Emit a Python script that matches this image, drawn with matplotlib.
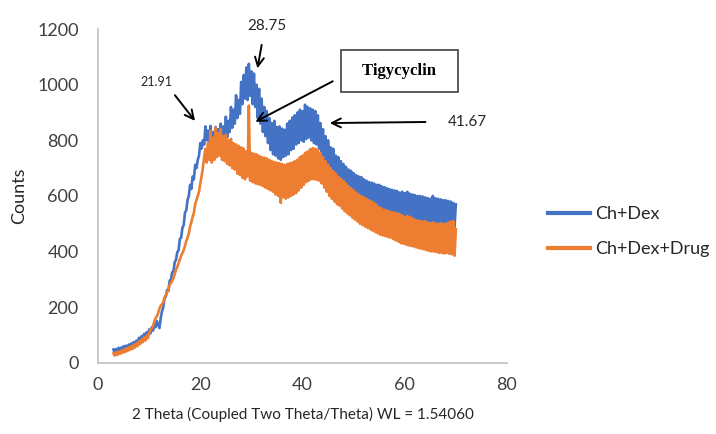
import numpy as np
import matplotlib.pyplot as plt

# 2 theta grid, 3 to 70 in steps of 0.25
two_theta = np.arange(3.0, 70.1, 0.25)

# Ch+Dex counts (noisy band)
ch_dex = [
    48, 36, 50, 40, 54, 42, 55, 46, 60, 48, 62, 52, 66, 55, 70, 58, 75, 62, 80, 68,
    90, 78, 96, 84, 104, 90, 110, 98, 120, 106, 128, 116, 140, 128, 150, 138, 125, 160, 185, 200,
    232, 238, 262, 258, 295, 300, 325, 330, 362, 370, 398, 405, 445, 450, 485, 495, 540, 548, 585, 600,
    640, 625, 670, 660, 712, 700, 730, 745, 790, 770, 800, 785, 850, 800, 835, 790, 852, 775, 830, 770,
    848, 775, 840, 790, 860, 780, 850, 800, 885, 810, 870, 830, 920, 845, 910, 860, 962, 880, 945, 895,
    1010, 930, 1035, 950, 1062, 945, 1075, 960, 1048, 930, 1040, 920, 1000, 880, 985, 860, 950, 830, 920, 815,
    905, 790, 880, 765, 862, 750, 870, 745, 848, 735, 850, 730, 842, 740, 838, 745, 860, 750, 870, 765,
    882, 770, 890, 785, 900, 790, 910, 800, 905, 795, 928, 805, 920, 810, 915, 800, 910, 790, 905, 785,
    890, 770, 862, 745, 840, 720, 815, 700, 800, 690, 775, 670, 770, 660, 745, 650, 740, 640, 725, 630,
    715, 620, 705, 610, 695, 600, 690, 598, 682, 590, 675, 590, 670, 585, 668, 580, 660, 578, 655, 575,
    650, 568, 648, 565, 645, 560, 640, 558, 640, 555, 635, 552, 632, 550, 628, 548, 625, 545, 622, 540,
    620, 540, 618, 536, 612, 534, 615, 530, 610, 528, 615, 525, 608, 522, 605, 520, 603, 518, 600, 515,
    600, 515, 598, 512, 595, 510, 592, 508, 590, 506, 600, 505, 592, 503, 590, 500, 588, 500, 585, 498,
    585, 495, 582, 493, 580, 490, 575, 488, 570,
]

# Ch+Dex+Drug counts (spike at 29.5 = tigecycline)
ch_dex_drug = [
    34, 26, 38, 28, 40, 32, 44, 35, 48, 38, 52, 42, 56, 46, 60, 50, 66, 55, 70, 60,
    78, 68, 84, 74, 92, 80, 98, 88, 108, 118, 125, 132, 150, 160, 168, 178, 195, 205, 210, 218,
    235, 242, 255, 262, 280, 288, 295, 305, 320, 335, 345, 358, 372, 385, 395, 405, 420, 438, 450, 465,
    490, 505, 525, 540, 570, 585, 600, 615, 645, 670, 700, 740, 770, 720, 790, 730, 835, 720, 810, 730,
    845, 740, 825, 745, 840, 730, 815, 725, 820, 715, 800, 710, 805, 700, 790, 695, 785, 680, 780, 675,
    775, 665, 770, 660, 760, 670, 925, 655, 755, 650, 752, 645, 750, 642, 745, 640, 740, 635, 738, 630,
    735, 625, 730, 620, 725, 615, 722, 605, 720, 600, 718, 575, 715, 595, 712, 590, 715, 595, 718, 600,
    720, 605, 725, 610, 730, 620, 740, 630, 745, 640, 755, 650, 760, 655, 768, 660, 772, 660, 770, 658,
    765, 655, 755, 645, 740, 630, 725, 615, 712, 600, 700, 590, 690, 580, 680, 570, 670, 565, 662, 555,
    655, 545, 645, 538, 635, 530, 628, 522, 620, 515, 612, 508, 605, 500, 600, 495, 595, 490, 590, 485,
    585, 480, 580, 475, 575, 470, 568, 465, 560, 460, 555, 458, 550, 455, 548, 452, 545, 450, 542, 445,
    540, 440, 538, 436, 535, 430, 530, 428, 525, 425, 528, 422, 525, 420, 520, 418, 515, 415, 512, 412,
    510, 410, 508, 408, 510, 405, 505, 402, 500, 400, 505, 400, 502, 398, 500, 395, 502, 395, 500, 393,
    500, 395, 505, 392, 508, 390, 510, 385, 480,
]

labels = ["Ch+Dex", "Ch+Dex+Drug"]
colors = ["#4472C4", "#ED7D31"]

plt.rcParams['font.family'] = ['Lato', 'DejaVu Sans']

fig = plt.figure(figsize=(7.16, 4.34), dpi=100)
ax = fig.add_axes([0.137, 0.164, 0.571, 0.769])

ax.plot(two_theta, ch_dex, color=colors[0], lw=1.9, label=labels[0])
ax.plot(two_theta, ch_dex_drug, color=colors[1], lw=1.9, label=labels[1])

ax.set_xlim(0, 80)
ax.set_ylim(0, 1200)
ax.set_xticks([0, 20, 40, 60, 80])
ax.set_yticks(range(0, 1201, 200))
ax.tick_params(length=0, labelsize=13, colors='#404040')
ax.tick_params(axis='y', pad=14)
ax.tick_params(axis='x', pad=10)
for s in ['top', 'right']:
    ax.spines[s].set_visible(False)
for s in ['left', 'bottom']:
    ax.spines[s].set_color('#c0c0c0')
    ax.spines[s].set_linewidth(1.2)

ax.set_ylabel('Counts', fontsize=13, color='#262626', labelpad=7)
ax.set_xlabel('2 Theta (Coupled Two Theta/Theta) WL = 1.54060', fontsize=11, color='#262626', labelpad=10)

# annotations
arr = dict(arrowstyle='->', lw=1.4, color='black', mutation_scale=16)
ax.text(33.0, 1212, '28.75', fontsize=11, ha='center', va='center', color='#262626')
ax.annotate('', xy=(31.1, 1049), xytext=(32.1, 1153), arrowprops=arr)
ax.text(11.5, 1010, '21.91', fontsize=9, ha='center', va='center', color='#262626')
ax.annotate('', xy=(19.3, 862), xytext=(14.7, 970), arrowprops=arr)
ax.text(72.2, 866, '41.67', fontsize=11, ha='center', va='center', color='#262626')
ax.annotate('', xy=(44.8, 862), xytext=(64.6, 866), arrowprops=arr)
ax.text(58.9, 1049, '  Tigycyclin  ', fontsize=12, ha='center', va='center',
        family='Liberation Serif', fontweight='bold',
        bbox=dict(boxstyle='square,pad=0.8', fc='white', ec='#404040', lw=1.2))
ax.annotate('', xy=(30.3, 862), xytext=(46.4, 1017), arrowprops=arr)

leg = fig.legend(loc='center left', bbox_to_anchor=(0.765, 0.4666), frameon=False,
                 fontsize=13, handlelength=2.33, labelspacing=1.05, handletextpad=0.28,
                 borderpad=0, borderaxespad=0)
for line in leg.get_lines():
    line.set_linewidth(3)
for t in leg.get_texts():
    t.set_color('#262626')

fig.savefig('out.png', dpi=100)
